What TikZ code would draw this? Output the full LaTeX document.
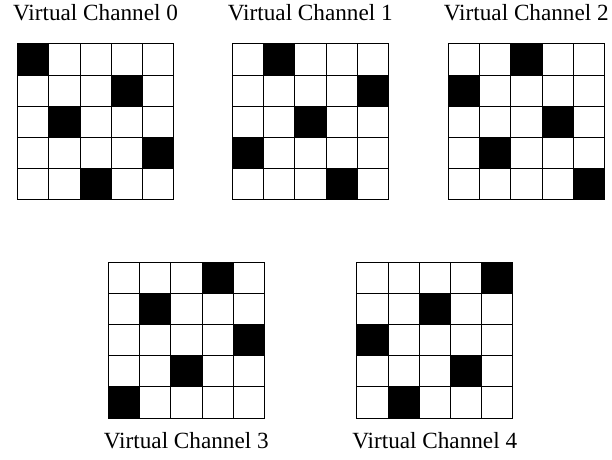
\documentclass[tikz,border=0pt]{standalone}
\usepackage{fontspec}
\setmainfont{Liberation Serif}
\usetikzlibrary{positioning}

\begin{document}
\begin{tikzpicture}[x=1pt, y=-1pt, line width=0.8pt,
    cell/.style = {draw, minimum size=31.2pt, inner sep=0pt},
    vclabel/.style = {inner sep=0pt, font=\fontsize{23.2}{28}\selectfont}]
            \useasboundingbox (0,0) rectangle (612,459);
            % one 5x5 grid per channel, black cell of row r in column (3r+g) mod 5
            \foreach \g/\gx/\gy in {0/17.5/43.7, 1/232.3/43.7, 2/448.3/43.7, 3/108.3/262, 4/356.7/262} {
                \foreach \r in {0,...,4} {
                    \pgfmathtruncatemacro{\bc}{mod(3*\r+\g,5)}
                    \foreach \c in {0,...,4} {
                        \ifnum\c=\bc \def\cellfill{black}\else \def\cellfill{white}\fi
                        \node[cell, fill=\cellfill] (g\g-\r-\c) at (\gx+15.6+31.2*\c, \gy+15.6+31.2*\r) {};
                    }
                }
            }
            \node[vclabel] (lab0) [above=22pt of g0-0-2] {Virtual Channel 0};
            \node[vclabel] (lab1) [above=22pt of g1-0-2] {Virtual Channel 1};
            \node[vclabel] (lab2) [above=22pt of g2-0-2] {Virtual Channel 2};
            \node[vclabel] (lab3) [below=14pt of g3-4-2] {Virtual Channel 3};
            \node[vclabel] (lab4) [below=14pt of g4-4-2] {Virtual Channel 4};
\end{tikzpicture}
\end{document}
